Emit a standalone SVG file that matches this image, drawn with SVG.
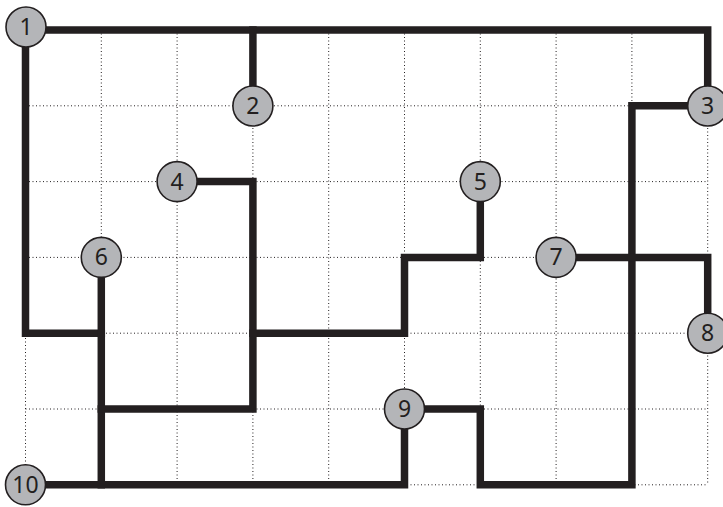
<svg xmlns="http://www.w3.org/2000/svg" width="723" height="507" viewBox="0 0 723 507">
<style>
.grid{stroke:#231f20;stroke-width:1;stroke-dasharray:1 2.5;fill:none}
.wire{stroke:#231f20;stroke-width:7.5;fill:none;stroke-linejoin:miter;stroke-linecap:square}
.node circle{fill:#b4b5b8;stroke:#231f20;stroke-width:1.6}
.node text{font-family:"Noto Sans","Open Sans",sans-serif;font-size:23px;fill:#231f20;text-anchor:middle;dominant-baseline:central}
</style>
<rect width="723" height="507" fill="#fff"/>
<g id="grid" class="grid">
<path d="M25.5 30V484.8M101.3 30V484.8M177.1 30V484.8M252.9 30V484.8M328.7 30V484.8M404.5 30V484.8M480.3 30V484.8M556.1 30V484.8M631.9 30V484.8M707.7 30V484.8"/>
<path d="M25.5 30H707.7M25.5 105.8H707.7M25.5 181.6H707.7M25.5 257.4H707.7M25.5 333.2H707.7M25.5 409H707.7M25.5 484.8H707.7"/>
</g>
<g id="connectors" class="wire">
<path d="M25.5 30H707.7V105.8"/>
<path d="M252.9 30V105.8"/>
<path d="M25.5 30V333.2H101.3"/>
<path d="M101.3 257.4V484.8"/>
<path d="M101.3 409H252.9V181.6H177.1"/>
<path d="M252.9 333.2H404.5V257.4H480.3V181.6"/>
<path d="M25.5 484.8H404.5V409"/>
<path d="M404.5 409H480.3V484.8H631.9V105.8H707.7"/>
<path d="M556.1 257.4H707.7V333.2"/>
</g>
<g id="n1" class="node"><circle cx="26" cy="27" r="20"/><text x="26" y="26">1</text></g>
<g id="n2" class="node"><circle cx="252.9" cy="106" r="20"/><text x="252.9" y="105">2</text></g>
<g id="n3" class="node"><circle cx="707.7" cy="106" r="20"/><text x="707.7" y="105">3</text></g>
<g id="n4" class="node"><circle cx="177.1" cy="181.6" r="20"/><text x="177.1" y="180.6">4</text></g>
<g id="n5" class="node"><circle cx="480.3" cy="181.6" r="20"/><text x="480.3" y="180.6">5</text></g>
<g id="n6" class="node"><circle cx="101.3" cy="257.4" r="20"/><text x="101.3" y="256.4">6</text></g>
<g id="n7" class="node"><circle cx="556.1" cy="257.4" r="20"/><text x="556.1" y="256.4">7</text></g>
<g id="n8" class="node"><circle cx="707.7" cy="333.2" r="20"/><text x="707.7" y="332.2">8</text></g>
<g id="n9" class="node"><circle cx="404.5" cy="409" r="20"/><text x="404.5" y="408">9</text></g>
<g id="n10" class="node"><circle cx="25.5" cy="484.8" r="20"/><text x="25.5" y="483.8">10</text></g>
</svg>
